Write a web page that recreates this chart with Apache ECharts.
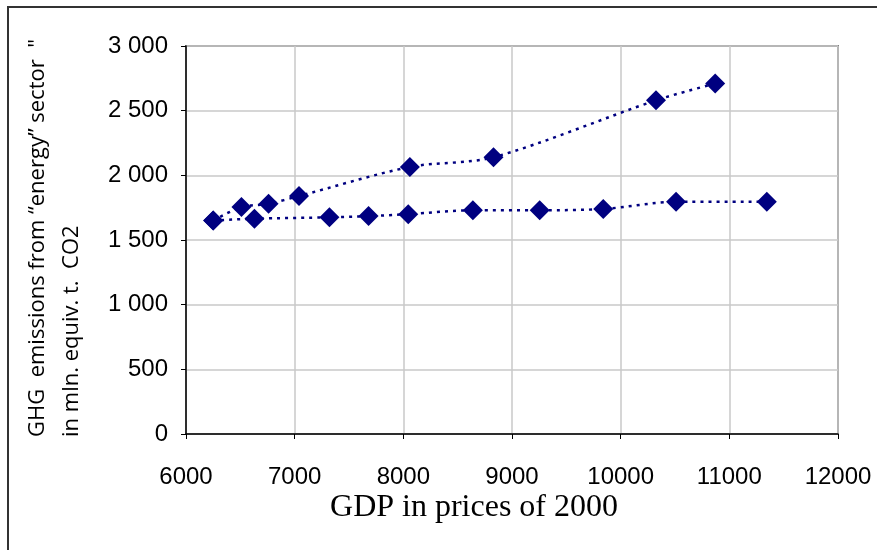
<!DOCTYPE html>
<html>
<head>
<meta charset="utf-8">
<script src="https://cdn.jsdelivr.net/npm/echarts@6/dist/echarts.min.js"></script>
<style>html,body{margin:0;padding:0;background:#fff;}#c{width:877px;height:550px;}</style>
</head>
<body>
<div id="c"></div>
<script>
// GDP (prices of 2000) and GHG emissions, upper path
const upperGDP = [6250, 6510, 6760, 7040, 8060, 8830, 10325, 10870];
const upperGHG = [1650, 1755, 1780, 1840, 2065, 2140, 2580, 2710];
// lower path
const lowerGDP = [6250, 6630, 7320, 7680, 8045, 8640, 9255, 9840, 10510, 11345];
const lowerGHG = [1650, 1665, 1675, 1685, 1700, 1730, 1730, 1740, 1795, 1795];

const xTicks = [6000, 7000, 8000, 9000, 10000, 11000, 12000];
const xTickLabels = ['6000', '7000', '8000', '9000', '10000', '11000', '12000'];
const yTicks = [0, 500, 1000, 1500, 2000, 2500, 3000];
const yTickLabels = ['0', '500', '1 000', '1 500', '2 000', '2 500', '3 000'];

const yTitle1 = 'GHG  emissions from \u201Cenergy\u201D sector  "';
const yTitle2 = 'in mln. equiv. t.  CO2';
const xTitle = 'GDP in prices of 2000';

const pair = (xs, ys) => xs.map((x, i) => [x, ys[i]]);
const navy = '#000080';

const chart = echarts.init(document.getElementById('c'));
const seriesStyle = {
  type: 'line',
  smooth: 0.3,
  symbol: 'diamond',
  symbolSize: 20,
  itemStyle: { color: navy },
  lineStyle: { color: navy, width: 2.5, type: [3, 5] },
  animation: false
};
chart.setOption({
  animation: false,
  grid: { left: 186, right: 39, top: 46, bottom: 116, show: true, borderColor: '#808080', borderWidth: 2 },
  xAxis: {
    type: 'value', min: xTicks[0], max: xTicks[xTicks.length - 1], interval: 1000,
    axisLine: { lineStyle: { color: '#000', width: 1.5 } },
    axisTick: { show: true, length: 5, lineStyle: { color: '#000' } },
    axisLabel: { margin: 31, color: '#000', fontFamily: 'Liberation Sans', fontSize: 24,
      formatter: v => xTickLabels[xTicks.indexOf(v)] },
    splitLine: { show: true, lineStyle: { color: '#c8c8c8', width: 1.5 } }
  },
  yAxis: {
    type: 'value', min: yTicks[0], max: yTicks[yTicks.length - 1], interval: 500,
    axisLine: { show: true, lineStyle: { color: '#000', width: 1.5 } },
    axisTick: { show: true, length: 5, lineStyle: { color: '#000' } },
    axisLabel: {
      margin: 18, color: '#000', fontFamily: 'Liberation Sans', fontSize: 24,
      formatter: v => yTickLabels[yTicks.indexOf(v)]
    },
    splitLine: { show: true, lineStyle: { color: '#c8c8c8', width: 1.5 } }
  },
  series: [
    Object.assign({ data: pair(upperGDP, upperGHG) }, seriesStyle),
    Object.assign({ data: pair(lowerGDP, lowerGHG) }, seriesStyle)
  ],
  graphic: [
    { type: 'rect', shape: { x: 8, y: 7, width: 1000, height: 1000 }, style: { fill: 'none', stroke: '#333', lineWidth: 2 } },
    { type: 'text', x: 38, y: 437, rotation: Math.PI / 2,
      style: { text: yTitle1, fontFamily: 'Open Sans', fontSize: 22, fill: '#000', align: 'left', verticalAlign: 'middle' } },
    { type: 'text', x: 72, y: 437, rotation: Math.PI / 2,
      style: { text: yTitle2, fontFamily: 'Open Sans', fontSize: 22, fill: '#000', align: 'left', verticalAlign: 'middle' } },
    { type: 'text', x: 474, y: 508,
      style: { text: xTitle, fontFamily: 'Liberation Serif', fontSize: 32, fill: '#000', align: 'center', verticalAlign: 'middle' } }
  ]
});
</script>
</body>
</html>
